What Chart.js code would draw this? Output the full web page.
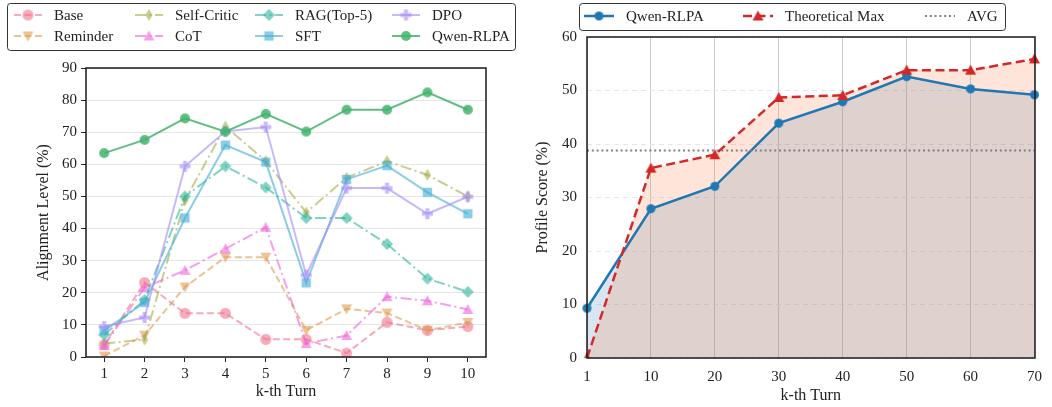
<!DOCTYPE html>
<html><head><meta charset="utf-8">
<script src="https://cdn.jsdelivr.net/npm/chart.js@4.4.1/dist/chart.umd.min.js"></script>
<style>
html,body{margin:0;padding:0;background:#fff;}
#wrap{position:relative;width:1052px;height:407px;overflow:hidden;}
#c1{position:absolute;left:0;top:0;}
#c2{position:absolute;left:526px;top:0;}
</style></head><body>
<div id="wrap"><canvas id="c1" width="526" height="407"></canvas><canvas id="c2" width="526" height="407"></canvas></div>
<script>
// ---------- data (left chart) ----------
const turns = [1, 2, 3, 4, 5, 6, 7, 8, 9, 10];
const baseVals       = [3.8, 23.2, 13.6, 13.6, 5.5, 5.5, 1.2, 10.8, 8.3, 9.5];
const reminderVals   = [0.3, 6.8, 21.8, 31.1, 31.1, 8.3, 15.0, 13.7, 8.3, 10.8];
const selfCriticVals = [4.2, 5.4, 48.8, 71.8, 61.0, 45.0, 55.8, 61.0, 56.7, 50.0];
const cotVals        = [3.6, 21.6, 27.0, 33.7, 40.4, 4.2, 6.7, 18.8, 17.5, 14.8];
const ragVals        = [6.9, 17.8, 50.0, 59.4, 52.8, 43.3, 43.3, 35.2, 24.4, 20.3];
const sftVals        = [8.2, 17.0, 43.3, 66.0, 60.7, 23.1, 55.3, 59.6, 51.3, 44.6];
const dpoVals        = [9.5, 12.3, 59.4, 70.2, 71.6, 25.5, 52.6, 52.6, 44.6, 49.9];
const qwenVals       = [63.5, 67.6, 74.3, 70.2, 75.7, 70.2, 77.0, 77.0, 82.4, 77.0];
const leftYTicks = [0, 10, 20, 30, 40, 50, 60, 70, 80, 90];

// ---------- data (right chart) ----------
const profileTurns = ['1', '10', '20', '30', '40', '50', '60', '70'];
const qwenProfile = [9.3, 27.9, 32.1, 43.9, 47.9, 52.6, 50.3, 49.2];
const theoreticalMax = [0, 35.5, 38.0, 48.7, 49.1, 53.8, 53.8, 55.9];
const avgValue = 38.8;
const rightYTicks = [0, 10, 20, 30, 40, 50, 60];

const FONT = "'Liberation Serif', 'DejaVu Serif', serif";
Chart.defaults.font.family = FONT;
Chart.defaults.font.size = 15;
Chart.defaults.color = '#222';

function makeMarker(shape, fill, r) {
  const s = Math.ceil(r * 2 + 4);
  const c = document.createElement('canvas');
  c.width = s; c.height = s;
  const g = c.getContext('2d');
  g.translate(s / 2, s / 2);
  g.fillStyle = fill;
  g.beginPath();
  if (shape === 'circle') g.arc(0, 0, r, 0, Math.PI * 2);
  else if (shape === 'square') g.rect(-r * 0.85, -r * 0.85, r * 1.7, r * 1.7);
  else if (shape === 'diamond') { g.moveTo(0, -r); g.lineTo(r, 0); g.lineTo(0, r); g.lineTo(-r, 0); }
  else if (shape === 'thinDiamond') { g.moveTo(0, -r); g.lineTo(r * 0.6, 0); g.lineTo(0, r); g.lineTo(-r * 0.6, 0); }
  else if (shape === 'triUp') { g.moveTo(0, -r); g.lineTo(r, r * 0.8); g.lineTo(-r, r * 0.8); }
  else if (shape === 'triDown') { g.moveTo(0, r); g.lineTo(r, -r * 0.8); g.lineTo(-r, -r * 0.8); }
  else if (shape === 'plus') {
    const t = r * 0.36;
    g.moveTo(-t, -r); g.lineTo(t, -r); g.lineTo(t, -t); g.lineTo(r, -t); g.lineTo(r, t); g.lineTo(t, t);
    g.lineTo(t, r); g.lineTo(-t, r); g.lineTo(-t, t); g.lineTo(-r, t); g.lineTo(-r, -t); g.lineTo(-t, -t);
  }
  g.closePath();
  g.fill();
  return c;
}

const DASH = [7, 3.5];
const DASHDOT = [11, 3.5, 2, 3.5];

const leftSeries = [
  {label: 'Base', vals: baseVals, color: 'rgba(240,113,140,0.6)', dash: DASH, marker: 'circle', r: 5.5},
  {label: 'Reminder', vals: reminderVals, color: 'rgba(222,155,80,0.6)', dash: DASH, marker: 'triDown', r: 5.5},
  {label: 'Self-Critic', vals: selfCriticVals, color: 'rgba(165,172,70,0.6)', dash: DASHDOT, marker: 'thinDiamond', r: 6},
  {label: 'CoT', vals: cotVals, color: 'rgba(238,97,222,0.6)', dash: DASHDOT, marker: 'triUp', r: 5.5},
  {label: 'RAG(Top-5)', vals: ragVals, color: 'rgba(47,180,155,0.6)', dash: DASHDOT, marker: 'diamond', r: 6},
  {label: 'SFT', vals: sftVals, color: 'rgba(63,172,213,0.6)', dash: [], marker: 'square', r: 5.5},
  {label: 'DPO', vals: dpoVals, color: 'rgba(163,138,247,0.6)', dash: [], marker: 'plus', r: 5.5},
  {label: 'Qwen-RLPA', vals: qwenVals, color: 'rgba(67,179,108,0.85)', dash: [], marker: 'circle', r: 5}
];

const leftDatasets = leftSeries.map((s, i) => ({
  label: s.label,
  data: turns.map((t, k) => ({x: t, y: s.vals[k]})),
  borderColor: s.color,
  backgroundColor: s.color,
  borderWidth: 2,
  borderDash: s.dash,
  pointStyle: makeMarker(s.marker, s.color, s.r),
  pointRadius: s.r,
  fill: false,
  order: 20 - i
}));

// frame plugin
const framePlugin = {
  id: 'frame',
  afterDraw(chart) {
    const {ctx, chartArea: a} = chart;
    ctx.save();
    ctx.strokeStyle = '#1a1a1a';
    ctx.lineWidth = 1.5;
    ctx.setLineDash([]);
    ctx.strokeRect(Math.round(a.left), Math.round(a.top), Math.round(a.right) - Math.round(a.left), Math.round(a.bottom) - Math.round(a.top));
    ctx.restore();
  }
};

function roundRect(ctx, x, y, w, h, r) {
  ctx.beginPath();
  ctx.moveTo(x + r, y);
  ctx.lineTo(x + w - r, y); ctx.quadraticCurveTo(x + w, y, x + w, y + r);
  ctx.lineTo(x + w, y + h - r); ctx.quadraticCurveTo(x + w, y + h, x + w - r, y + h);
  ctx.lineTo(x + r, y + h); ctx.quadraticCurveTo(x, y + h, x, y + h - r);
  ctx.lineTo(x, y + r); ctx.quadraticCurveTo(x, y, x + r, y);
  ctx.closePath();
}

const legendPlugin = {
  id: 'customLegend',
  afterDraw(chart, args, opts) {
    const ctx = chart.ctx;
    const b = opts.box;
    ctx.save();
    roundRect(ctx, b.x + 0.5, b.y + 0.5, b.w, b.h, 3);
    ctx.fillStyle = '#fff';
    ctx.fill();
    ctx.strokeStyle = '#333';
    ctx.lineWidth = 1;
    ctx.stroke();
    ctx.font = '15px ' + FONT;
    ctx.textBaseline = 'middle';
    ctx.fillStyle = '#222';
    opts.items.forEach(it => {
      const ds = chart.data.datasets[it.index];
      const x0 = it.x, x1 = it.x + opts.len, y = it.y;
      ctx.save();
      ctx.strokeStyle = ds.borderColor;
      ctx.lineWidth = ds.borderWidth;
      ctx.setLineDash(ds.borderDash || []);
      ctx.beginPath(); ctx.moveTo(x0, y); ctx.lineTo(x1, y); ctx.stroke();
      ctx.restore();
      if (ds.pointStyle && ds.pointStyle.width && ds.pointRadius > 0) {
        const m = ds.pointStyle;
        ctx.drawImage(m, (x0 + x1) / 2 - m.width / 2, y - m.height / 2);
      }
      ctx.fillStyle = '#222';
      ctx.fillText(ds.label, x1 + opts.gap, y + 1);
    });
    ctx.restore();
  }
};

const legendCols = [14, 135, 255, 392];
const legendRows = [15, 36];
const leftLegendItems = [
  {index: 0, x: legendCols[0], y: legendRows[0]},
  {index: 1, x: legendCols[0], y: legendRows[1]},
  {index: 2, x: legendCols[1], y: legendRows[0]},
  {index: 3, x: legendCols[1], y: legendRows[1]},
  {index: 4, x: legendCols[2], y: legendRows[0]},
  {index: 5, x: legendCols[2], y: legendRows[1]},
  {index: 6, x: legendCols[3], y: legendRows[0]},
  {index: 7, x: legendCols[3], y: legendRows[1]}
];

new Chart(document.getElementById('c1'), {
  type: 'line',
  data: {datasets: leftDatasets},
  plugins: [framePlugin, legendPlugin],
  options: {
    responsive: false,
    animation: false,
    events: [],
    layout: {padding: {left: 0, right: 40, top: 68, bottom: 0}},
    plugins: {
      legend: {display: false},
      tooltip: {enabled: false},
      customLegend: {
        box: {x: 7, y: 3, w: 508, h: 47},
        len: 28, gap: 12,
        items: leftLegendItems
      }
    },
    scales: {
      x: {
        type: 'linear', min: 0.55, max: 10.45,
        afterFit: s => { s.height = 50; },
        ticks: {stepSize: 1, includeBounds: false, padding: 3, font: {size: 15}, color: '#222'},
        grid: {drawOnChartArea: false, drawTicks: true, tickLength: 5, tickColor: '#222', tickWidth: 1},
        border: {display: false},
        title: {display: true, text: 'k-th Turn', font: {size: 16}, color: '#222', padding: {top: 0, bottom: 6}}
      },
      y: {
        type: 'linear', min: leftYTicks[0], max: leftYTicks[leftYTicks.length - 1],
        afterFit: s => { s.width = 86; },
        afterBuildTicks: s => { s.ticks = leftYTicks.map(v => ({value: v})); },
        ticks: {padding: 4, font: {size: 15}, color: '#222'},
        grid: {color: '#e6e6e6', lineWidth: 1, drawTicks: true, tickLength: 5, tickColor: '#222', tickWidth: 1},
        border: {display: false},
        title: {display: true, text: 'Alignment Level (%)', font: {size: 16}, color: '#222', padding: {top: 34, bottom: 0}}
      }
    }
  }
});

// ---------- right chart ----------
const blueMarker = makeMarker('circle', '#1f77b4', 4.5);
const redMarker = makeMarker('triUp', '#d62728', 5.5);

new Chart(document.getElementById('c2'), {
  type: 'line',
  data: {
    labels: profileTurns,
    datasets: [
      {
        label: 'Qwen-RLPA', data: qwenProfile,
        borderColor: '#1f77b4', backgroundColor: 'rgba(31,119,180,0.18)',
        borderWidth: 2.5, borderDash: [], pointStyle: blueMarker, pointRadius: 4.5,
        fill: 'origin', order: 2
      },
      {
        label: 'Theoretical Max', data: theoreticalMax,
        borderColor: '#d62728', backgroundColor: 'rgba(255,127,64,0.2)',
        borderWidth: 2.5, borderDash: [9, 4.5], pointStyle: redMarker, pointRadius: 5.5,
        fill: 'origin', order: 1
      },
      {
        label: 'AVG', data: profileTurns.map(() => avgValue),
        borderColor: '#7f7f7f', backgroundColor: '#7f7f7f',
        borderWidth: 2, borderDash: [2, 2.8], pointRadius: 0,
        fill: false, order: 0
      }
    ]
  },
  plugins: [framePlugin, legendPlugin],
  options: {
    responsive: false,
    animation: false,
    events: [],
    layout: {padding: {left: 0, right: 10, top: 37, bottom: 0}},
    plugins: {
      legend: {display: false},
      tooltip: {enabled: false},
      filler: {drawTime: 'beforeDatasetsDraw'},
      customLegend: {
        box: {x: 53, y: 3, w: 426, h: 27},
        len: 30, gap: 12,
        items: [
          {index: 0, x: 58, y: 16},
          {index: 1, x: 217, y: 16},
          {index: 2, x: 399, y: 16}
        ]
      }
    },
    scales: {
      x: {
        type: 'category', offset: false,
        afterFit: s => { s.height = 49; },
        ticks: {padding: 10, font: {size: 15}, color: '#222', autoSkip: false, maxRotation: 0},
        grid: {color: '#cccccc', lineWidth: 1, drawTicks: false},
        border: {display: false},
        title: {display: true, text: 'k-th Turn', font: {size: 16}, color: '#222', padding: {top: 0, bottom: 2}}
      },
      y: {
        type: 'linear', min: rightYTicks[0], max: rightYTicks[rightYTicks.length - 1],
        afterFit: s => { s.width = 61; },
        afterBuildTicks: s => { s.ticks = rightYTicks.map(v => ({value: v})); },
        ticks: {padding: 10, font: {size: 15}, color: '#222'},
        grid: {color: '#e6e6e6', lineWidth: 1, drawTicks: false},
        border: {display: false, dash: [5, 4]},
        title: {display: true, text: 'Profile Score (%)', font: {size: 16}, color: '#222', padding: {top: 7, bottom: 0}}
      }
    }
  }
});
</script>
</body></html>
